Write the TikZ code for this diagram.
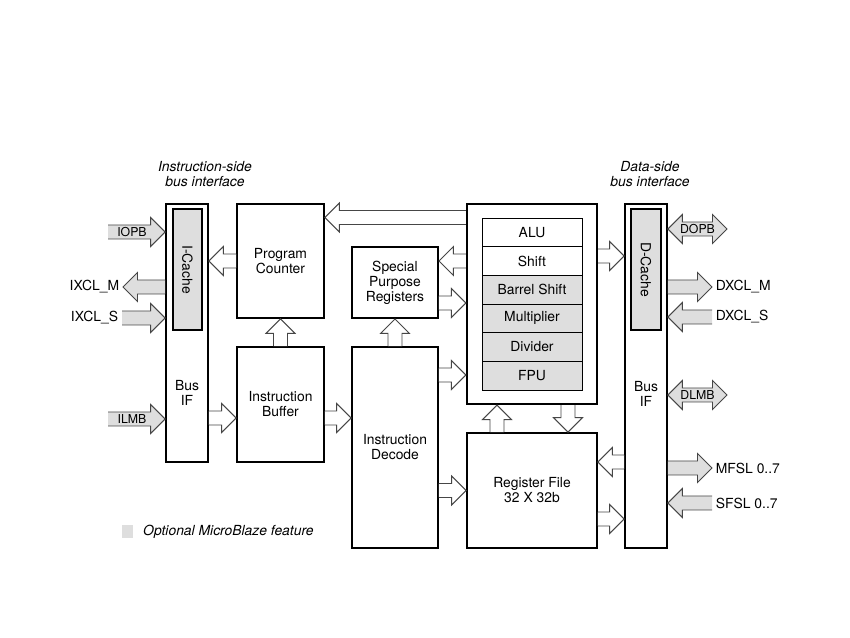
\documentclass[tikz,border=0pt]{standalone}
\usepackage{fontspec}
\setmainfont{TeX Gyre Heros}
\usetikzlibrary{calc}

\definecolor{optgray}{RGB}{222,222,222}
\definecolor{edgegray}{RGB}{70,70,70}

% sizes of the block arrows
\newcommand{\arrshaft}{0.14cm}
\newcommand{\arrwing}{0.29cm}
\newcommand{\arrhead}{0.29cm}

% block arrow from #2 (tail) to #3 (tip), fill #1
\newcommand{\blockarrow}[3][white]{%
  \coordinate (ba-a) at #2;
  \coordinate (ba-b) at #3;
  \coordinate (ba-h) at ($(ba-b)!\arrhead!(ba-a)$);
  \fill[#1] ($(ba-a)!\arrshaft!90:(ba-b)$) -- ($(ba-h)!\arrshaft!90:(ba-b)$)
    -- ($(ba-h)!\arrwing!90:(ba-b)$) -- (ba-b) -- ($(ba-h)!\arrwing!-90:(ba-b)$)
    -- ($(ba-h)!\arrshaft!-90:(ba-b)$) -- ($(ba-a)!\arrshaft!-90:(ba-b)$) -- cycle;
  \draw[blockline] ($(ba-a)!\arrshaft!90:(ba-b)$) -- ($(ba-h)!\arrshaft!90:(ba-b)$)
    -- ($(ba-h)!\arrwing!90:(ba-b)$) -- (ba-b) -- ($(ba-h)!\arrwing!-90:(ba-b)$)
    -- ($(ba-h)!\arrshaft!-90:(ba-b)$) -- ($(ba-a)!\arrshaft!-90:(ba-b)$);
}
% block arrow with a head at both ends
\newcommand{\dblockarrow}[3][white]{%
  \coordinate (ba-a) at #2;
  \coordinate (ba-b) at #3;
  \coordinate (ba-h) at ($(ba-b)!\arrhead!(ba-a)$);
  \coordinate (ba-g) at ($(ba-a)!\arrhead!(ba-b)$);
  \draw[blockline, fill=#1] (ba-a) -- ($(ba-g)!\arrwing!-90:(ba-a)$)
    -- ($(ba-g)!\arrshaft!-90:(ba-a)$) -- ($(ba-h)!\arrshaft!90:(ba-b)$)
    -- ($(ba-h)!\arrwing!90:(ba-b)$) -- (ba-b) -- ($(ba-h)!\arrwing!-90:(ba-b)$)
    -- ($(ba-h)!\arrshaft!-90:(ba-b)$) -- ($(ba-g)!\arrshaft!90:(ba-a)$)
    -- ($(ba-g)!\arrwing!90:(ba-a)$) -- cycle;
}

\begin{document}
\begin{tikzpicture}[
  every node/.style={font=\fontsize{7.9}{8.5}\selectfont},
  block/.style={draw, line width=0.95pt, align=center, inner sep=1pt},
  cache/.style={draw, line width=0.7pt, fill=optgray, inner sep=0pt},
  row/.style={draw, line width=0.5pt, minimum width=2cm, minimum height=0.5733cm, inner sep=0pt},
  sig/.style={inner sep=2pt},
  buslbl/.style={inner sep=0pt, font=\fontsize{7}{8}\selectfont},
  caption/.style={align=center, font=\fontsize{7.9}{9}\selectfont\itshape},
  blockline/.style={draw=edgegray, line width=0.55pt, line join=miter}]
\useasboundingbox (0,0) rectangle (17,12.76);
% Headings
\node[caption] (ihead) at (4.10,9.28) {Instruction-side\\bus interface};
\node[caption] (dhead) at (13.00,9.28) {Data-side\\bus interface};
% Instruction side
\node[block, minimum width=0.84cm, minimum height=5.16cm] (ibus) at (3.74,6.10) {};
\node[cache, minimum width=0.58cm, minimum height=2.42cm] (icache) at (3.75,7.37) {};
\node[rotate=-90] (icache-l) at (icache) {I-Cache};
\node[align=center] (ibus-l) at (3.74,4.90) {Bus\\IF};
\node[block, minimum width=1.74cm, minimum height=2.28cm] (pc) at (5.61,7.54) {Program\\Counter};
\node[block, minimum width=1.74cm, minimum height=2.30cm] (ibuf) at (5.61,4.67) {Instruction\\Buffer};
\node[block, line width=1.1pt, minimum width=1.72cm, minimum height=1.42cm] (spr) at (7.90,7.11) {Special\\Purpose\\Registers};
\node[block, minimum width=1.72cm, minimum height=4.02cm] (idec) at (7.90,3.81) {Instruction\\Decode};
% Execution units
\node[block, line width=1.3pt, minimum width=2.60cm, minimum height=4.00cm] (exu) at (10.64,6.68) {};
\foreach \lab/\k/\fc in {ALU/0/white, Shift/1/white, Barrel Shift/2/optgray,
    Multiplier/3/optgray, Divider/4/optgray, FPU/5/optgray}
  \node[row, fill=\fc] (row\k) at (10.64,{8.113-\k*0.5733}) {\lab};
\node[block, minimum width=2.60cm, minimum height=2.30cm] (rf) at (10.64,2.95) {Register File\\32 X 32b};
% Data side
\node[block, minimum width=0.84cm, minimum height=6.88cm] (dbus) at (12.92,5.24) {};
\node[cache, minimum width=0.60cm, minimum height=2.42cm] (dcache) at (12.92,7.37) {};
\node[rotate=-90] (dcache-l) at (dcache) {D-Cache};
\node[align=center] (dbus-l) at (12.92,4.88) {Bus\\IF};
% Internal data paths
\blockarrow{(exu.west |- 0,8.41)}{(pc.east |- 0,8.41)}
\blockarrow{(pc.west)}{(ibus.east |- pc.west)}
\blockarrow{(ibuf.north)}{(pc.south)}
\blockarrow{(ibus.east |- 0,4.40)}{(ibuf.west |- 0,4.40)}
\blockarrow{(ibuf.east |- 0,4.40)}{(idec.west |- 0,4.40)}
\blockarrow{(idec.north)}{(spr.south)}
\blockarrow{(exu.west |- 0,7.54)}{(spr.east |- 0,7.54)}
\blockarrow{(spr.east |- 0,6.70)}{(exu.west |- 0,6.70)}
\blockarrow{(idec.east |- 0,5.26)}{(exu.west |- 0,5.26)}
\blockarrow{(exu.east |- 0,7.64)}{(dbus.west |- 0,7.64)}
\blockarrow{(9.94,0 |- rf.north)}{(9.94,0 |- exu.south)}
\blockarrow{(11.36,0 |- exu.south)}{(11.36,0 |- rf.north)}
\blockarrow{(idec.east |- rf.west)}{(rf.west)}
\blockarrow{(dbus.west |- 0,3.52)}{(rf.east |- 0,3.52)}
\blockarrow{(rf.east |- 0,2.38)}{(dbus.west |- 0,2.38)}
% Instruction-side bus signals
\coordinate (iopb) at (2.16,8.12);
\coordinate (ixclm) at (2.46,7.02);
\coordinate (ixcls) at (2.44,6.40);
\coordinate (ilmb) at (2.16,4.38);
\blockarrow[optgray]{(iopb)}{(ibus.west |- iopb)}
\node[buslbl] (iopb-l) at (2.64,8.12) {IOPB};
\blockarrow[optgray]{(ibus.west |- ixclm)}{(ixclm)}
\node[sig, left] (ixclm-l) at (ixclm) {IXCL\_M};
\blockarrow[optgray]{(ixcls)}{(ibus.west |- ixcls)}
\node[sig, left] (ixcls-l) at (ixcls) {IXCL\_S};
\blockarrow[optgray]{(ilmb)}{(ibus.west |- ilmb)}
\node[buslbl] (ilmb-l) at (2.64,4.38) {ILMB};
% Data-side bus signals
\coordinate (dopb) at (14.54,8.18);
\coordinate (dxclm) at (14.24,7.02);
\coordinate (dxcls) at (14.24,6.42);
\coordinate (dlmb) at (14.54,4.86);
\coordinate (mfsl) at (14.24,3.40);
\coordinate (sfsl) at (14.24,2.70);
\dblockarrow[optgray]{(dbus.east |- dopb)}{(dopb)}
\node[buslbl] (dopb-l) at (13.95,8.18) {DOPB};
\blockarrow[optgray]{(dbus.east |- dxclm)}{(dxclm)}
\node[sig, right] (dxclm-l) at (dxclm) {DXCL\_M};
\blockarrow[optgray]{(dxcls)}{(dbus.east |- dxcls)}
\node[sig, right] (dxcls-l) at (dxcls) {DXCL\_S};
\dblockarrow[optgray]{(dbus.east |- dlmb)}{(dlmb)}
\node[buslbl] (dlmb-l) at (13.95,4.86) {DLMB};
\blockarrow[optgray]{(dbus.east |- mfsl)}{(mfsl)}
\node[sig, right] (mfsl-l) at (mfsl) {MFSL 0..7};
\blockarrow[optgray]{(sfsl)}{(dbus.east |- sfsl)}
\node[sig, right] (sfsl-l) at (sfsl) {SFSL 0..7};
% Legend
\fill[optgray] (2.44,2.00) rectangle (2.66,2.26);
\node[anchor=west, font=\fontsize{7.9}{9}\selectfont\itshape] (legend) at (2.74,2.13) {Optional MicroBlaze feature};
\end{tikzpicture}
\end{document}
